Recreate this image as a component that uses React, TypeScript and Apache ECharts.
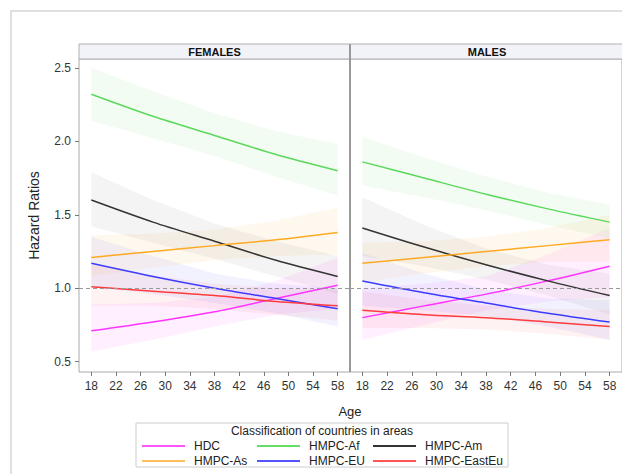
import React, { useEffect, useRef } from "react";
import * as echarts from "echarts";

const ages = [18, 28, 38, 48, 58];
const tickAges = [18, 22, 26, 30, 34, 38, 42, 46, 50, 54, 58];
const yTicks = [0.5, 1.0, 1.5, 2.0, 2.5];
const panels = ["FEMALES", "MALES"];
const groups = ["HDC", "HMPC-Af", "HMPC-Am", "HMPC-As", "HMPC-EU", "HMPC-EastEu"];
const lineColors = ["#ff33ff", "#5cd85c", "#333333", "#ffaa22", "#3c3cff", "#ff3c3c"];
const legendColors = ["#ff55ff", "#66dd66", "#333333", "#ffc060", "#5555ff", "#ff5555"];
const bandOpacity = [0.08, 0.08, 0.055, 0.08, 0.065, 0.065];

// FEMALES: estimate, lower CI, upper CI
const fHDC = [0.71, 0.77, 0.84, 0.93, 1.02];
const fHDCLow = [0.57, 0.65, 0.74, 0.82, 0.86];
const fHDCHigh = [0.89, 0.9, 0.94, 1.05, 1.21];
const fAf = [2.32, 2.17, 2.04, 1.91, 1.8];
const fAfLow = [2.14, 2.02, 1.9, 1.76, 1.63];
const fAfHigh = [2.5, 2.34, 2.19, 2.07, 1.98];
const fAm = [1.6, 1.45, 1.32, 1.19, 1.08];
const fAmLow = [1.42, 1.31, 1.2, 1.08, 0.96];
const fAmHigh = [1.79, 1.6, 1.44, 1.32, 1.22];
const fAs = [1.21, 1.25, 1.29, 1.33, 1.38];
const fAsLow = [1.08, 1.14, 1.19, 1.22, 1.23];
const fAsHigh = [1.36, 1.37, 1.4, 1.46, 1.55];
const fEU = [1.17, 1.08, 1.0, 0.93, 0.86];
const fEULow = [1.01, 0.96, 0.9, 0.83, 0.74];
const fEUHigh = [1.35, 1.22, 1.1, 1.03, 1.0];
const fEast = [1.01, 0.98, 0.95, 0.91, 0.88];
const fEastLow = [0.88, 0.88, 0.86, 0.82, 0.78];
const fEastHigh = [1.16, 1.09, 1.03, 1.0, 0.99];

// MALES: estimate, lower CI, upper CI
const mHDC = [0.8, 0.88, 0.96, 1.05, 1.15];
const mHDCLow = [0.65, 0.75, 0.85, 0.91, 0.94];
const mHDCHigh = [1.0, 1.03, 1.08, 1.23, 1.41];
const mAf = [1.86, 1.75, 1.64, 1.54, 1.45];
const mAfLow = [1.7, 1.62, 1.53, 1.43, 1.34];
const mAfHigh = [2.03, 1.89, 1.76, 1.65, 1.57];
const mAm = [1.41, 1.28, 1.16, 1.05, 0.95];
const mAmLow = [1.22, 1.15, 1.06, 0.95, 0.82];
const mAmHigh = [1.62, 1.43, 1.27, 1.16, 1.1];
const mAs = [1.17, 1.21, 1.25, 1.29, 1.33];
const mAsLow = [1.04, 1.1, 1.15, 1.18, 1.18];
const mAsHigh = [1.31, 1.32, 1.35, 1.41, 1.5];
const mEU = [1.05, 0.97, 0.9, 0.83, 0.77];
const mEULow = [0.88, 0.85, 0.81, 0.74, 0.65];
const mEUHigh = [1.24, 1.1, 0.99, 0.93, 0.92];
const mEast = [0.85, 0.82, 0.8, 0.77, 0.74];
const mEastLow = [0.73, 0.73, 0.72, 0.69, 0.65];
const mEastHigh = [0.98, 0.92, 0.88, 0.86, 0.85];

const panelData = [
  {
    est: [fHDC, fAf, fAm, fAs, fEU, fEast],
    low: [fHDCLow, fAfLow, fAmLow, fAsLow, fEULow, fEastLow],
    high: [fHDCHigh, fAfHigh, fAmHigh, fAsHigh, fEUHigh, fEastHigh],
  },
  {
    est: [mHDC, mAf, mAm, mAs, mEU, mEast],
    low: [mHDCLow, mAfLow, mAmLow, mAsLow, mEULow, mEastLow],
    high: [mHDCHigh, mAfHigh, mAmHigh, mAsHigh, mEUHigh, mEastHigh],
  },
];

// legend layout: [group index, left, top]
const legendSlots: [number, number, number][] = [
  [0, 142, 440], [1, 257, 440], [2, 373, 440],
  [3, 142, 455], [4, 257, 455], [5, 373, 455],
];

const FONT = "Liberation Sans, Arial, sans-serif";

export default function App() {
  const ref = useRef<HTMLDivElement>(null);
  useEffect(() => {
    if (!ref.current) return;
    const chart = echarts.init(ref.current, undefined, { renderer: "svg" });
    const series: any[] = [];
    panelData.forEach((pd, p) => {
      groups.forEach((g, i) => {
        const low = pd.low[i];
        const high = pd.high[i];
        series.push({
          type: "custom",
          name: `${g} CI ${p}`,
          xAxisIndex: p,
          yAxisIndex: p,
          silent: true,
          clip: true,
          z: 1,
          data: ages.map((a, k) => [a, high[k], low[k]]),
          encode: { x: 0, y: [1, 2] },
          renderItem: (params: any, api: any) => {
            if (params.dataIndex !== 0) return null;
            const top = ages.map((a, k) => api.coord([a, high[k]]));
            const bot = ages.map((a, k) => api.coord([a, low[k]])).reverse();
            return {
              type: "polygon",
              shape: { points: top.concat(bot) },
              style: { fill: lineColors[i], opacity: bandOpacity[i] },
            };
          },
        });
      });
    });
    panelData.forEach((pd, p) => {
      groups.forEach((g, i) => {
        const s: any = {
          type: "line",
          name: g,
          xAxisIndex: p,
          yAxisIndex: p,
          smooth: 0.3,
          symbol: "none",
          color: legendColors[i],
          lineStyle: { color: lineColors[i], width: 1.5 },
          data: ages.map((a, k) => [a, pd.est[i][k]]),
          z: 3,
        };
        if (i === 0) {
          s.markLine = {
            silent: true,
            symbol: ["none", "none"],
            label: { show: false },
            lineStyle: { color: "#999", type: [4, 3], width: 1.2 },
            data: [{ yAxis: 1 }],
          };
        }
        series.push(s);
      });
    });

    const xAxisBase = (idx: number) => ({
      type: "value",
      gridIndex: idx,
      min: 16,
      max: 60,
      splitLine: { show: false },
      axisLine: { show: false },
      axisTick: { customValues: tickAges, length: 4, lineStyle: { color: "#777" } },
      axisLabel: { customValues: tickAges, color: "#333", fontSize: 12, fontFamily: FONT, margin: 8 },
    });

    const legends = legendSlots.map(([gi, left, top]) => ({
      left,
      top,
      icon: "rect",
      itemWidth: 43,
      itemHeight: 2,
      itemGap: 0,
      padding: 0,
      data: [groups[gi]],
      textStyle: { color: "#222", fontSize: 12, fontFamily: FONT, padding: [0, 0, 0, 4] },
      selectedMode: false,
    }));

    chart.setOption({
      animation: false,
      backgroundColor: "#ffffff",
      grid: [
        { left: 79, top: 59, width: 271, height: 313, show: true, borderColor: "#aaaaaa", borderWidth: 1, backgroundColor: "transparent" },
        { left: 350, top: 59, width: 274, height: 313, show: true, borderColor: "#aaaaaa", borderWidth: 1, backgroundColor: "transparent" },
      ],
      xAxis: [xAxisBase(0), xAxisBase(1)],
      yAxis: [
        {
          type: "value",
          gridIndex: 0,
          min: 0.43,
          max: 2.56,
          name: "Hazard Ratios",
          nameLocation: "middle",
          nameGap: 38,
          nameTextStyle: { fontSize: 14, color: "#222", fontFamily: FONT },
          splitLine: { show: false },
          axisLine: { show: false },
          axisTick: { customValues: yTicks, length: 4, lineStyle: { color: "#777" } },
          axisLabel: {
            customValues: yTicks,
            formatter: (v: number) => v.toFixed(1),
            color: "#333",
            fontSize: 12,
            fontFamily: FONT,
            margin: 8,
          },
        },
        {
          type: "value",
          gridIndex: 1,
          min: 0.43,
          max: 2.56,
          splitLine: { show: false },
          axisLine: { show: false },
          axisTick: { show: false },
          axisLabel: { show: false },
        },
      ],
      legend: legends,
      graphic: [
        {
          type: "rect",
          silent: true,
          z: -10,
          shape: { x: 11, y: 11, width: 660, height: 520 },
          style: { fill: "none", stroke: "#d6d6d6", lineWidth: 1.5 },
        },
        {
          type: "rect",
          silent: true,
          shape: { x: 79, y: 44, width: 545, height: 15 },
          style: { fill: "#f2f3f9", stroke: "#b0b0b0", lineWidth: 1 },
        },
        {
          type: "text",
          silent: true,
          x: 214.5,
          y: 51.5,
          style: { text: panels[0], fontSize: 11, fontWeight: "bold", fill: "#111", fontFamily: FONT, align: "center", verticalAlign: "middle" },
        },
        {
          type: "text",
          silent: true,
          x: 487,
          y: 51.5,
          style: { text: panels[1], fontSize: 11, fontWeight: "bold", fill: "#111", fontFamily: FONT, align: "center", verticalAlign: "middle" },
        },
        {
          type: "line",
          silent: true,
          z: 10,
          shape: { x1: 350, y1: 44, x2: 350, y2: 372 },
          style: { stroke: "#999999", lineWidth: 2 },
        },
        {
          type: "text",
          silent: true,
          x: 350,
          y: 411,
          style: { text: "Age", fontSize: 13, fill: "#222", fontFamily: FONT, align: "center", verticalAlign: "middle" },
        },
        {
          type: "rect",
          silent: true,
          z: -5,
          shape: { x: 136, y: 423, width: 372, height: 44 },
          style: { fill: "#fff", stroke: "#cccccc", lineWidth: 1 },
        },
        {
          type: "text",
          silent: true,
          x: 322,
          y: 431,
          style: { text: "Classification of countries in areas", fontSize: 12, fill: "#222", fontFamily: FONT, align: "center", verticalAlign: "middle" },
        },
      ],
      series,
    });
    return () => chart.dispose();
  }, []);
  return <div ref={ref} style={{ position: "absolute", left: 0, top: 0, width: 622, height: 474 }} />;
}
